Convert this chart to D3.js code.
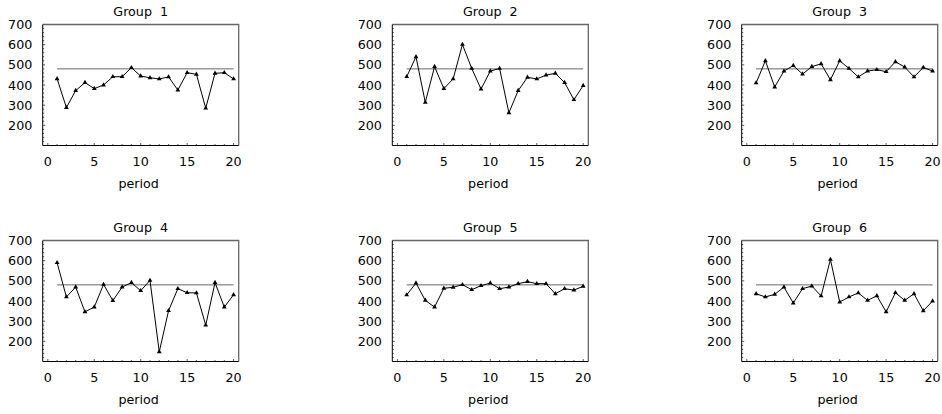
<!DOCTYPE html>
<html>
<head>
<meta charset="utf-8">
<script src="https://cdn.jsdelivr.net/npm/d3@7"></script>
<style>
  body { margin: 0; background: #fff; }
  text { font-family: "DejaVu Sans", sans-serif; }
</style>
</head>
<body>
<script>
var w = 942;
var h = 414;

// data
var periods = d3.range(1, 21);
var groupNames = ['Group  1', 'Group  2', 'Group  3', 'Group  4', 'Group  5', 'Group  6'];
var group1 = [431, 288, 372, 412, 382, 400, 441, 441, 486, 444, 436, 430, 440, 375, 461, 453, 285, 458, 461, 430];
var group2 = [441, 540, 314, 491, 382, 430, 601, 482, 380, 469, 482, 262, 372, 438, 430, 449, 458, 412, 327, 397];
var group3 = [410, 520, 390, 469, 496, 454, 491, 505, 426, 520, 482, 440, 469, 476, 466, 515, 489, 440, 487, 469];
var group4 = [590, 420, 469, 346, 370, 482, 402, 469, 491, 451, 502, 148, 352, 461, 441, 440, 280, 491, 370, 431];
var group5 = [430, 489, 403, 370, 463, 468, 481, 456, 476, 489, 461, 469, 486, 496, 486, 486, 436, 461, 454, 473];
var group6 = [436, 420, 433, 469, 390, 461, 474, 425, 606, 395, 420, 440, 403, 426, 346, 441, 403, 436, 351, 400];
var groups = [group1, group2, group3, group4, group5, group6];
var target = 480;
var xTicks = [0, 5, 10, 15, 20];
var yTicks = [200, 300, 400, 500, 600, 700];

var colLeft = [42.7, 392.3, 741.7];
var rowTop = [24.5, 240.5];
var pw = 196;
var ph = 121;
var fs = 12.7;

var svg = d3.select('body')
           .append('svg')
           .attr('width', w)
           .attr('height', h);

var x = d3.scaleLinear().domain([-0.55, 20.55]).range([0, pw]);
var y = d3.scaleLinear().domain([100, 700]).range([ph, 0]);

var line = d3.line()
    .x(function(d, i) { return x(periods[i]); })
    .y(function(d) { return y(d); });

var tri = d3.symbol().type(d3.symbolTriangle).size(10);

groups.forEach(function(vals, gi) {
    var g = svg.append('g')
        .attr('transform', 'translate(' + colLeft[gi % 3] + ',' + rowTop[Math.floor(gi / 3)] + ')');

    // minor ticks (inward)
    g.selectAll('.ytick')
        .data(d3.range(120, 700, 20))
        .enter().append('line')
        .attr('x1', 0).attr('x2', function(d) { return d % 100 == 0 ? 2.5 : 1.5; })
        .attr('y1', function(d) { return y(d); }).attr('y2', function(d) { return y(d); })
        .attr('stroke', '#333').attr('stroke-width', 0.8);

    g.selectAll('.xtick')
        .data(d3.range(0, 21))
        .enter().append('line')
        .attr('x1', function(d) { return x(d); }).attr('x2', function(d) { return x(d); })
        .attr('y1', ph).attr('y2', function(d) { return d % 5 == 0 ? ph - 2.5 : ph - 1.5; })
        .attr('stroke', '#333').attr('stroke-width', 0.8);

    // frame: grey top/right, black left/bottom
    g.append('path')
        .attr('d', 'M0,0H' + pw + 'V' + ph)
        .attr('fill', 'none').attr('stroke', '#666').attr('stroke-width', 1.3);
    g.append('path')
        .attr('d', 'M0,0V' + ph + 'H' + pw)
        .attr('fill', 'none').attr('stroke', '#000').attr('stroke-width', 1);

    // tick labels
    g.selectAll('.ylab')
        .data(yTicks)
        .enter().append('text')
        .attr('x', -10.4).attr('y', function(d) { return y(d); })
        .attr('dy', '0.36em')
        .attr('text-anchor', 'end')
        .attr('font-size', fs)
        .text(function(d) { return d; });

    g.selectAll('.xlab')
        .data(xTicks)
        .enter().append('text')
        .attr('x', function(d) { return x(d); }).attr('y', ph + 20.5)
        .attr('text-anchor', 'middle')
        .attr('font-size', fs)
        .text(function(d) { return d; });

    // title and axis name
    g.append('text')
        .attr('x', pw / 2).attr('y', -8.5)
        .attr('text-anchor', 'middle')
        .attr('font-size', fs)
        .style('white-space', 'pre')
        .text(groupNames[gi]);

    g.append('text')
        .attr('x', pw / 2 - 2).attr('y', ph + 42)
        .attr('text-anchor', 'middle')
        .attr('font-size', fs)
        .text('period');

    // reference level
    g.append('line')
        .attr('x1', x(periods[0])).attr('x2', x(periods[periods.length - 1]))
        .attr('y1', y(target)).attr('y2', y(target))
        .attr('stroke', '#666').attr('stroke-width', 1);

    g.append('path')
        .datum(vals)
        .attr('d', line)
        .attr('fill', 'none')
        .attr('stroke', '#000')
        .attr('stroke-width', 1);

    g.selectAll('.pt')
        .data(vals)
        .enter().append('path')
        .attr('d', tri)
        .attr('transform', function(d, i) { return 'translate(' + x(periods[i]) + ',' + y(d) + ')'; })
        .attr('fill', '#000');
});
</script>
</body>
</html>
